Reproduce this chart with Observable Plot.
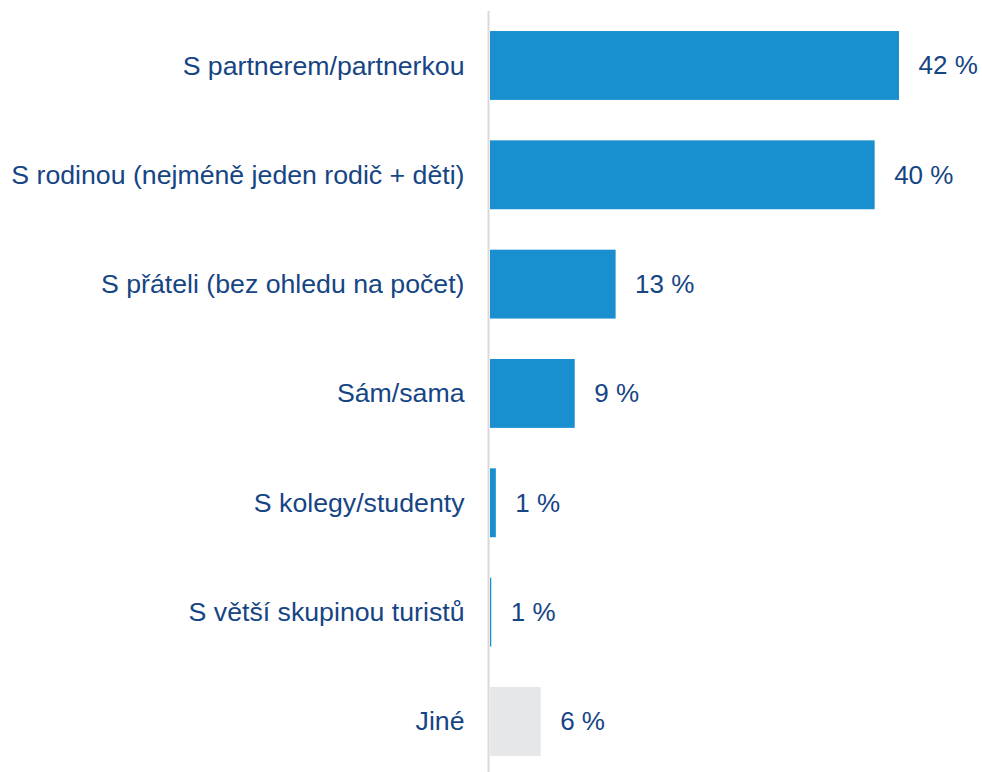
<!DOCTYPE html>
<html>
<head>
<meta charset="utf-8">
<script src="https://cdn.jsdelivr.net/npm/d3@7"></script>
<script src="https://cdn.jsdelivr.net/npm/@observablehq/plot@0.6"></script>
<style>
  html, body { margin: 0; padding: 0; background: #fff; }
  #chart svg { display: block; }
</style>
</head>
<body>
<div id="chart"></div>
<script>
const categories = [
  "S partnerem/partnerkou",
  "S rodinou (nejméně jeden rodič + děti)",
  "S přáteli (bez ohledu na počet)",
  "Sám/sama",
  "S kolegy/studenty",
  "S větší skupinou turistů",
  "Jiné"
];
const values = [42.0, 39.5, 12.9, 8.7, 0.6, 0.13, 5.2];
const valueLabels = ["42 %", "40 %", "13 %", "9 %", "1 %", "1 %", "6 %"];

const data = categories.map((c, i) => ({category: c, value: values[i], label: valueLabels[i]}));

const blue = "#1a8fd0";
const gray = "#e6e7e8";
const textColor = "#164584";

const chart = Plot.plot({
  width: 982,
  height: 772,
  marginLeft: 490,
  marginRight: 83,
  marginTop: 11,
  marginBottom: 0,
  style: {fontFamily: "'Liberation Sans', Arial, sans-serif", fontSize: "26.7px", color: textColor, background: "#fff"},
  x: {domain: [0, 42], axis: null},
  y: {domain: categories, range: [10.8, 776.1], paddingInner: 0.37, paddingOuter: 0.185, round: false, label: null},
  marks: [
    Plot.barX(data, {x: "value", y: "category", fill: d => d.category === "Jiné" ? gray : blue}),
    Plot.ruleX([0], {dx: -2, stroke: "#d9d9d9", strokeWidth: 2}),
    Plot.axisY({tickSize: 0, tickPadding: 26, fontSize: 26.7, fill: textColor, label: null}),
    Plot.text(data, {x: "value", y: "category", text: "label", dx: 19, textAnchor: "start", fill: textColor, fontSize: 26})
  ]
});
document.getElementById("chart").appendChild(chart);
</script>
</body>
</html>
